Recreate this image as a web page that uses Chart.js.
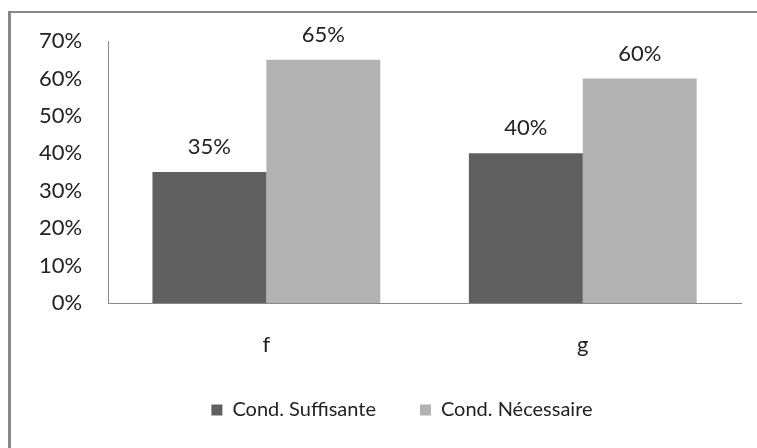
<!DOCTYPE html>
<html lang="fr">
<head>
  <meta charset="UTF-8" />
  <title>Cond. Suffisante / Cond. Nécessaire</title>
  <script src="https://cdn.jsdelivr.net/npm/chart.js"></script>
  <style>
    body { margin: 0; background: #fff; }
    #wrap { position: relative; width: 757px; height: 448px; }
    #frame { position: absolute; left: 8px; top: 11px; right: 0; bottom: 0; border-left: 3px solid #888; border-top: 2px solid #888; pointer-events: none; }
  </style>
</head>
<body>
  <div id="wrap">
    <canvas id="chart" width="757" height="448"></canvas>
    <div id="frame"></div>
  </div>

  <script>
    const categories = ['f', 'g'];
    const suffisante = [0.35, 0.40];
    const necessaire = [0.65, 0.60];
    const seriesNames = ['Cond. Suffisante', 'Cond. Nécessaire'];

    const pct = v => Math.round(v * 100) + '%';
    const fontFamily = "Lato, 'Open Sans', sans-serif";

    // value labels above each bar
    const barLabels = {
      id: 'barLabels',
      afterDatasetsDraw(chart) {
        const ctx = chart.ctx;
        ctx.save();
        ctx.font = '22px ' + fontFamily;
        ctx.fillStyle = '#222';
        ctx.textAlign = 'center';
        ctx.textBaseline = 'middle';
        chart.data.datasets.forEach((ds, i) => {
          chart.getDatasetMeta(i).data.forEach((bar, j) => {
            ctx.fillText(pct(ds.data[j]), bar.x, bar.y - 25);
          });
        });
        ctx.restore();
      }
    };

    // the legend sits a bit right of the canvas centre in the original
    const legendShift = {
      id: 'legendShift',
      afterLayout(chart) {
        chart.legend.left += 25;
        chart.legend.right += 25;
      }
    };

    new Chart(document.getElementById('chart'), {
      type: 'bar',
      data: {
        labels: categories,
        datasets: [
          { label: seriesNames[0], data: suffisante, backgroundColor: '#606060' },
          { label: seriesNames[1], data: necessaire, backgroundColor: '#b2b2b2' }
        ]
      },
      options: {
        responsive: false,
        animation: false,
        categoryPercentage: 0.72,
        barPercentage: 1,
        layout: { padding: { left: 13, right: 16, top: 41, bottom: 18 } },
        scales: {
          x: {
            grid: { display: false, drawTicks: false },
            border: { display: true, color: '#888', width: 1 },
            ticks: { color: '#222', font: { family: fontFamily, size: 22 }, padding: 29 },
            afterFit: s => { s.height = 53; }
          },
          y: {
            min: 0,
            max: 0.7,
            grid: { display: false, drawTicks: false },
            border: { display: true, color: '#888', width: 1 },
            ticks: { stepSize: 0.1, callback: v => pct(v), color: '#222', font: { family: fontFamily, size: 22 }, padding: 26 }
          }
        },
        plugins: {
          legend: {
            position: 'bottom',
            labels: { boxWidth: 11, boxHeight: 11, color: '#222', font: { family: fontFamily, size: 20 }, padding: 44 }
          },
          tooltip: { enabled: false }
        }
      },
      plugins: [barLabels, legendShift]
    });
  </script>
</body>
</html>
